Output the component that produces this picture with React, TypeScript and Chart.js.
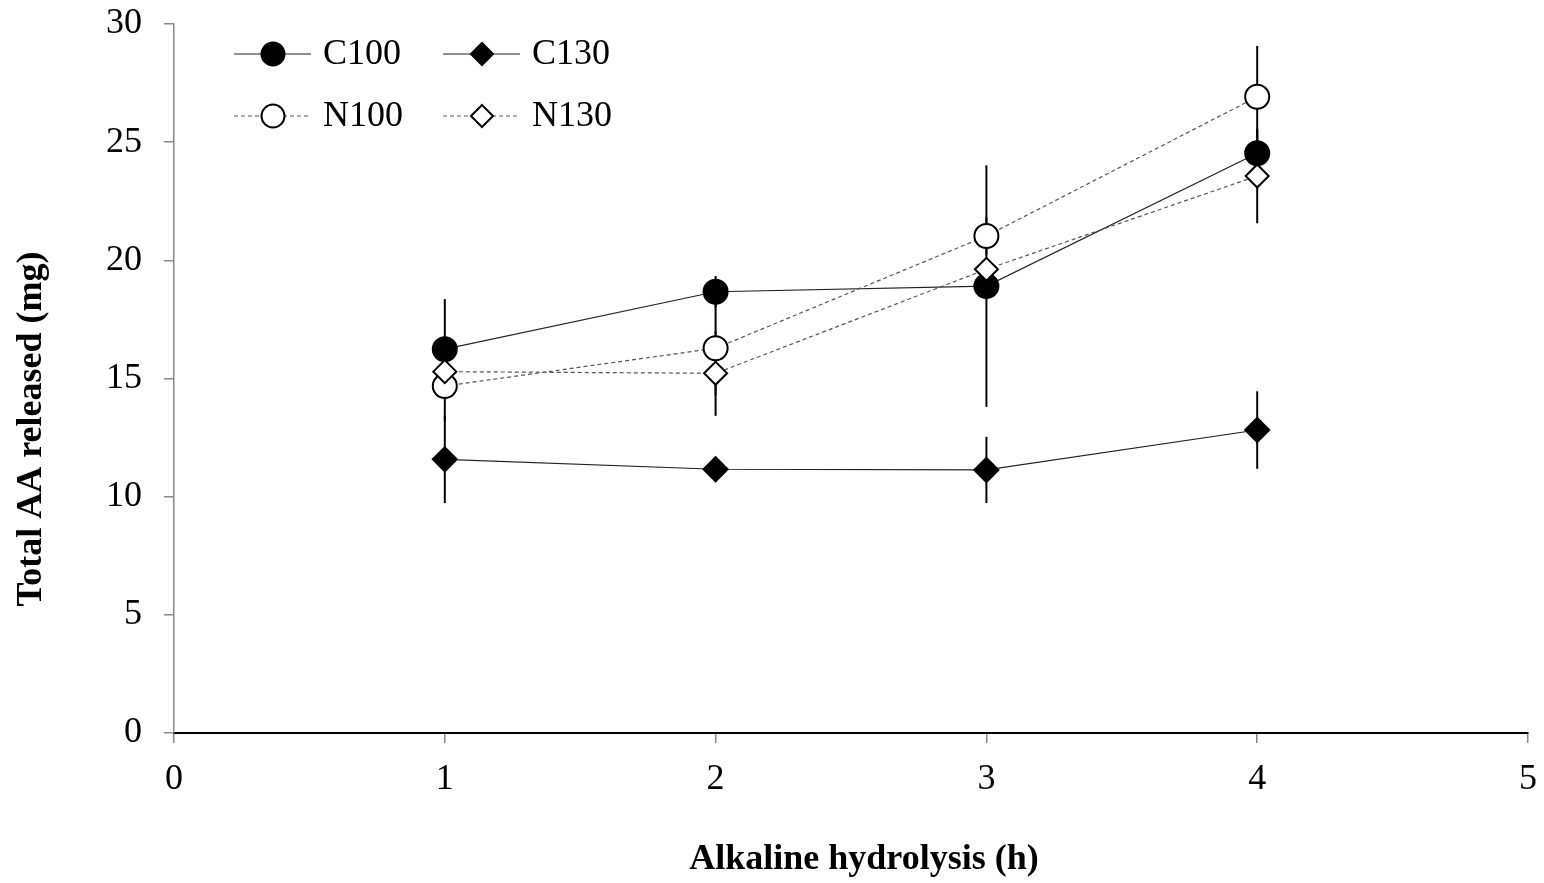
import React, { useEffect, useRef } from "react";
import { Chart, registerables } from "chart.js";

Chart.register(...registerables);

const hours = [1, 2, 3, 4];
const xTicks = [0, 1, 2, 3, 4, 5];
const yTicks = [0, 5, 10, 15, 20, 25, 30];

const c100 = [16.24, 18.67, 18.91, 24.53];
const c100Err = [2.12, 0.67, 5.11, 1.0];
const c130 = [11.58, 11.16, 11.13, 12.82];
const c130Err = [1.85, 0.3, 1.4, 1.64];
const n100 = [14.68, 16.28, 21.03, 26.92];
const n100Err = [1.5, 2.0, 0.8, 2.15];
const n130 = [15.29, 15.22, 19.62, 23.57];
const n130Err = [0.5, 1.8, 0.5, 2.0];

const xTitle = "Alkaline hydrolysis (h)";
const yTitle = "Total AA released (mg)";

const SERIF = '"Liberation Serif", "Times New Roman", serif';

type Series = {
  label: string;
  values: number[];
  errs: number[];
  point: "circle" | "rectRot";
  fill: string;
  dashed: boolean;
  radius: number;
};

const series: Series[] = [
  { label: "N130", values: n130, errs: n130Err, point: "rectRot", fill: "#ffffff", dashed: true, radius: 11.5 },
  { label: "N100", values: n100, errs: n100Err, point: "circle", fill: "#ffffff", dashed: true, radius: 12 },
  { label: "C130", values: c130, errs: c130Err, point: "rectRot", fill: "#000000", dashed: false, radius: 12 },
  { label: "C100", values: c100, errs: c100Err, point: "circle", fill: "#000000", dashed: false, radius: 12 },
];

const legendOrder = ["C100", "C130", "N100", "N130"];

export default function App() {
  const ref = useRef<HTMLCanvasElement | null>(null);

  useEffect(() => {
    if (!ref.current) return;

    const errorBars = {
      id: "errorBars",
      beforeDatasetsDraw(chart: any) {
        const ctx = chart.ctx;
        const xs = chart.scales.x;
        const ys = chart.scales.y;
        ctx.save();
        ctx.strokeStyle = "#000";
        ctx.lineWidth = 2;
        series.forEach((s) => {
          s.values.forEach((v, i) => {
            const e = s.errs[i];
            const px = xs.getPixelForValue(hours[i]);
            ctx.beginPath();
            ctx.moveTo(px, ys.getPixelForValue(v + e));
            ctx.lineTo(px, ys.getPixelForValue(v - e));
            ctx.stroke();
          });
        });
        ctx.restore();
      },
    };

    const annotations = {
      id: "annotations",
      afterDraw(chart: any) {
        const ctx = chart.ctx;
        ctx.save();
        // axis titles
        ctx.fillStyle = "#000";
        ctx.font = `bold 36px ${SERIF}`;
        ctx.textAlign = "center";
        ctx.textBaseline = "middle";
        ctx.fillText(xTitle, 864, 860);
        ctx.translate(32, 429);
        ctx.rotate(-Math.PI / 2);
        ctx.fillText(yTitle, 0, 0);
        ctx.restore();

        // legend
        ctx.save();
        const positions: Record<string, [number, number]> = {
          C100: [234, 54],
          C130: [443, 54],
          N100: [234, 116],
          N130: [443, 116],
        };
        legendOrder.forEach((name) => {
          const s = series.find((d) => d.label === name)!;
          const [lx, ly] = positions[name];
          ctx.save();
          ctx.strokeStyle = s.dashed ? "#555" : "#222";
          ctx.lineWidth = 1.2;
          ctx.setLineDash(s.dashed ? [4, 3] : []);
          ctx.beginPath();
          ctx.moveTo(lx, ly);
          ctx.lineTo(lx + 77, ly);
          ctx.stroke();
          ctx.restore();
          ctx.save();
          ctx.fillStyle = s.fill;
          ctx.strokeStyle = "#000";
          ctx.lineWidth = 2;
          const cx = lx + 39;
          const r = s.point === "circle" ? 11.5 : 11;
          ctx.beginPath();
          if (s.point === "circle") {
            ctx.arc(cx, ly, r, 0, Math.PI * 2);
          } else {
            ctx.moveTo(cx - r, ly);
            ctx.lineTo(cx, ly - r);
            ctx.lineTo(cx + r, ly);
            ctx.lineTo(cx, ly + r);
            ctx.closePath();
          }
          ctx.fill();
          ctx.stroke();
          ctx.restore();
          ctx.fillStyle = "#000";
          ctx.font = `36px ${SERIF}`;
          ctx.textAlign = "left";
          ctx.textBaseline = "middle";
          ctx.fillText(name, lx + 89, ly + 1);
        });
        ctx.restore();
      },
    };

    const chart = new Chart(ref.current, {
      type: "line",
      data: {
        datasets: series.map((s) => ({
          label: s.label,
          data: s.values.map((v, i) => ({ x: hours[i], y: v })),
          borderColor: s.dashed ? "#555" : "#222",
          borderWidth: 1.2,
          borderDash: s.dashed ? [4, 3] : [],
          pointStyle: s.point,
          pointRadius: s.radius,
          pointBackgroundColor: s.fill,
          pointBorderColor: "#000",
          pointBorderWidth: 2,
          fill: false,
          tension: 0,
        })),
      },
      options: {
        responsive: false,
        animation: false,
        events: [],
        layout: { padding: { top: 24, right: 16, left: 0, bottom: 0 } },
        plugins: {
          legend: { display: false },
          tooltip: { enabled: false },
          title: { display: false },
        },
        scales: {
          x: {
            type: "linear",
            min: 0,
            max: 5,
            afterBuildTicks: (scale: any) => {
              scale.ticks = xTicks.map((v) => ({ value: v }));
            },
            afterFit: (scale: any) => {
              scale.height = 150;
              scale.paddingLeft = 0;
              scale.paddingRight = 0;
            },
            ticks: {
              font: { family: SERIF, size: 36 },
              color: "#000",
              padding: 15,
              maxRotation: 0,
            },
            grid: {
              display: true,
              drawOnChartArea: false,
              drawTicks: true,
              tickLength: 10,
              color: "#888",
              lineWidth: 1.5,
            },
            border: { display: true, color: "#000", width: 2 },
          },
          y: {
            type: "linear",
            min: 0,
            max: 30,
            afterBuildTicks: (scale: any) => {
              scale.ticks = yTicks.map((v) => ({ value: v }));
            },
            afterFit: (scale: any) => {
              scale.width = 174;
              scale.paddingTop = 0;
              scale.paddingBottom = 0;
            },
            ticks: {
              font: { family: SERIF, size: 36 },
              color: "#000",
              padding: 22,
            },
            grid: {
              display: true,
              drawOnChartArea: false,
              drawTicks: true,
              tickLength: 10,
              color: "#888",
              lineWidth: 1.5,
            },
            border: { display: true, color: "#888", width: 1.5 },
          },
        },
      },
      plugins: [errorBars, annotations],
    } as any);

    return () => chart.destroy();
  }, []);

  return (
    <div style={{ position: "fixed", left: 0, top: 0, width: 1544, height: 883, background: "#fff" }}>
      <canvas ref={ref} width={1544} height={883} style={{ display: "block" }} />
    </div>
  );
}
